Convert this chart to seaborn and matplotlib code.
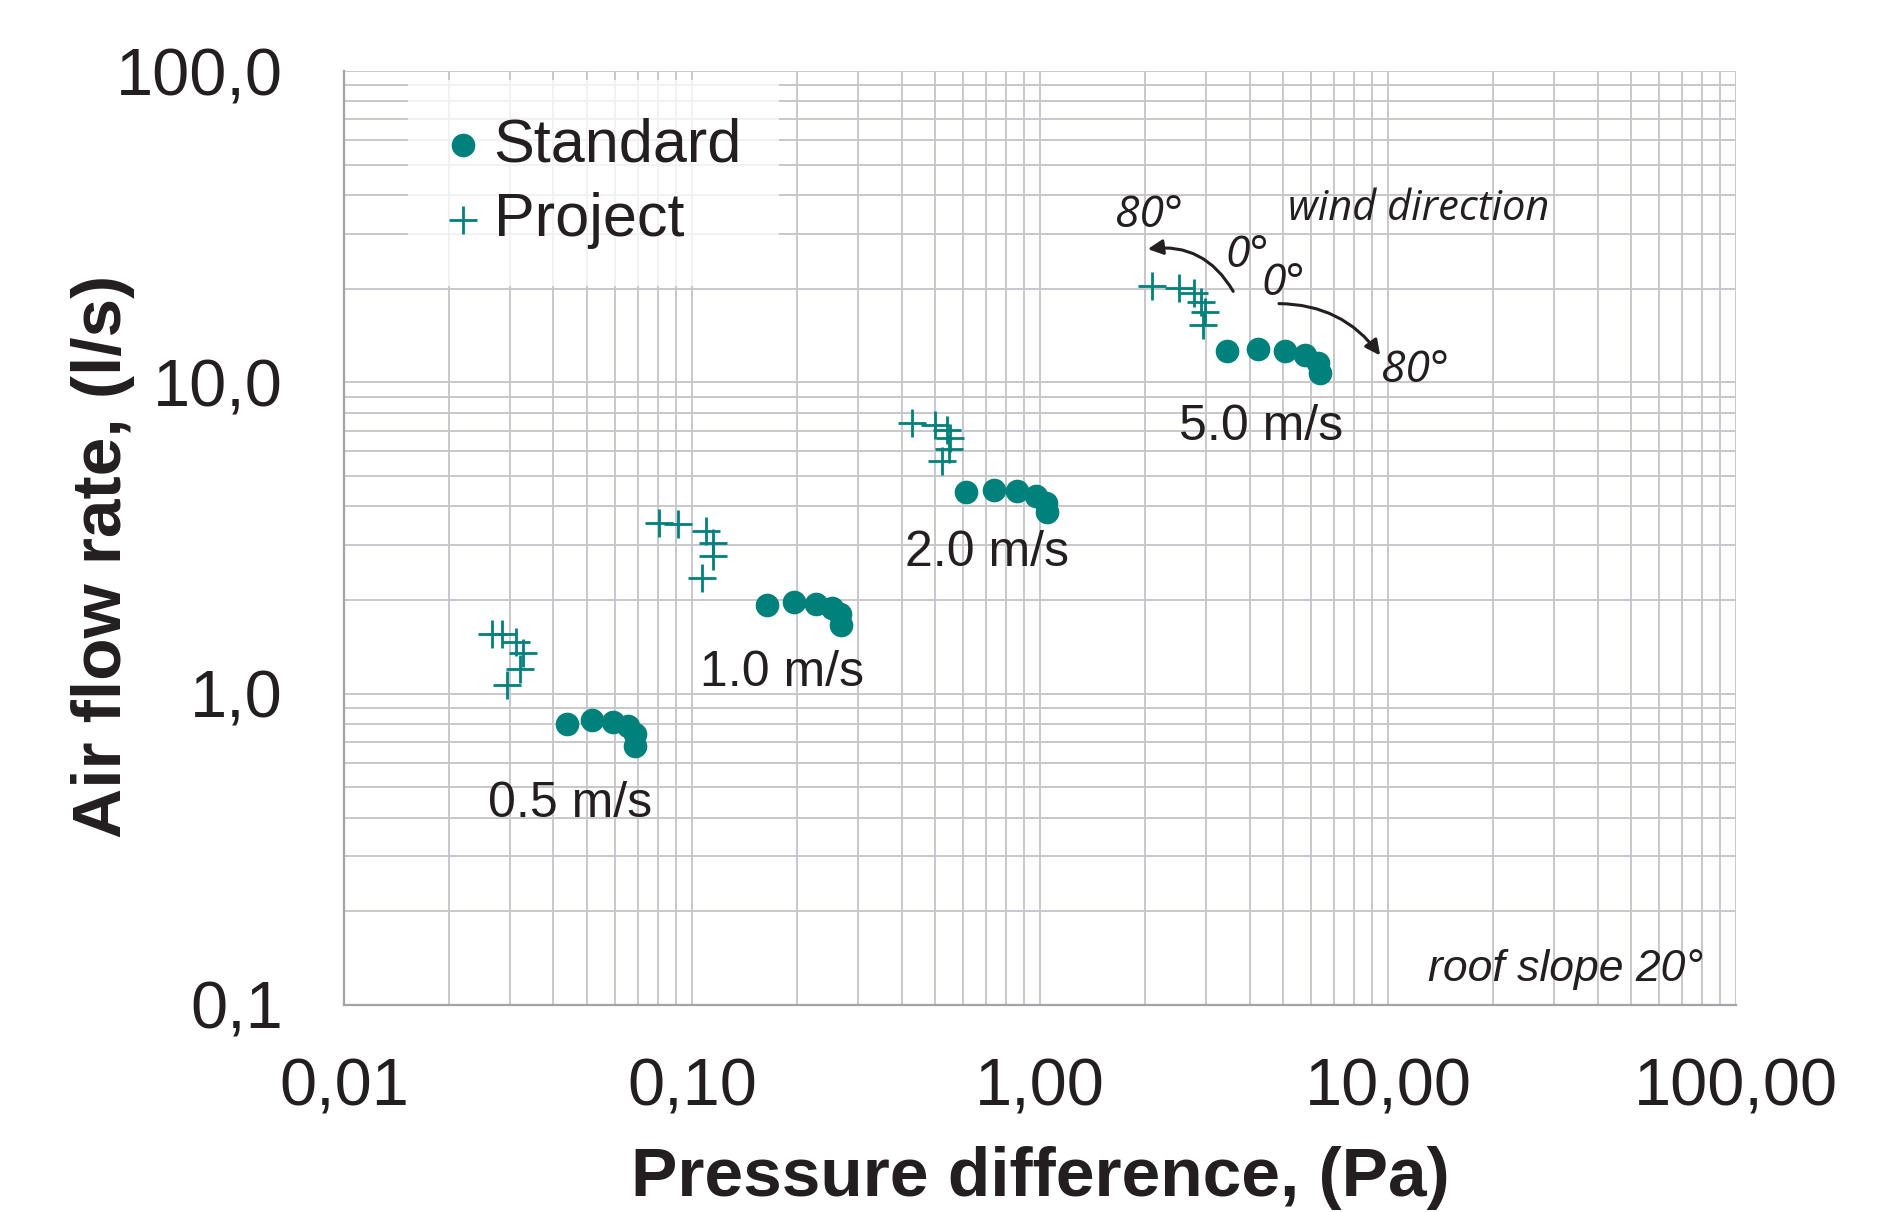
import matplotlib
matplotlib.use("Agg")
import matplotlib.pyplot as plt
import seaborn as sns
import pandas as pd
import numpy as np
from matplotlib.ticker import FixedLocator, LogLocator, NullFormatter

# ---------------- data ----------------
speeds = ["0.5 m/s", "1.0 m/s", "2.0 m/s", "5.0 m/s"]

std_dp_05 = [0.0437, 0.0517, 0.0594, 0.0656, 0.0686, 0.0686]
std_q_05 = [0.80, 0.82, 0.81, 0.79, 0.74, 0.68]
std_dp_10 = [0.164, 0.196, 0.227, 0.252, 0.266, 0.268]
std_q_10 = [1.92, 1.97, 1.94, 1.88, 1.80, 1.66]
std_dp_20 = [0.612, 0.739, 0.861, 0.974, 1.038, 1.049]
std_q_20 = [4.44, 4.52, 4.47, 4.30, 4.10, 3.82]
std_dp_50 = [3.45, 4.24, 5.07, 5.78, 6.28, 6.38]
std_q_50 = [12.6, 12.8, 12.6, 12.2, 11.5, 10.7]

prj_dp_05 = [0.0266, 0.0285, 0.0312, 0.0327, 0.0321, 0.0295]
prj_q_05 = [1.56, 1.56, 1.47, 1.35, 1.20, 1.07]
prj_dp_10 = [0.0803, 0.0910, 0.110, 0.115, 0.115, 0.107]
prj_q_10 = [3.54, 3.51, 3.33, 3.05, 2.76, 2.35]
prj_dp_20 = [0.430, 0.500, 0.540, 0.551, 0.549, 0.522]
prj_q_20 = [7.42, 7.31, 7.01, 6.63, 6.09, 5.57]
prj_dp_50 = [2.10, 2.51, 2.77, 2.90, 2.98, 2.93]
prj_q_50 = [20.4, 20.1, 19.3, 18.1, 16.8, 15.3]

# speed label anchor positions (data coords)
speed_label_x = [0.0446, 0.181, 0.704, 4.32]
speed_label_y = [0.443, 1.168, 2.82, 7.17]

x_ticks = [0.01, 0.1, 1, 10, 100]
x_ticklabels = ["0,01", "0,10", "1,00", "10,00", "100,00"]
y_ticks = [0.1, 1, 10, 100]
y_ticklabels = ["0,1", "1,0", "10,0", "100,0"]

std = pd.DataFrame({
    "dp": std_dp_05 + std_dp_10 + std_dp_20 + std_dp_50,
    "q": std_q_05 + std_q_10 + std_q_20 + std_q_50,
})
prj = pd.DataFrame({
    "dp": prj_dp_05 + prj_dp_10 + prj_dp_20 + prj_dp_50,
    "q": prj_q_05 + prj_q_10 + prj_q_20 + prj_q_50,
})

# ---------------- style ----------------
sns.set_style("white")
plt.rcParams["font.family"] = ["Liberation Sans", "DejaVu Sans"]
TEAL = "#00817B"
TXT = "#231f20"
GRID = "#c8c8cc"
SPINE = "#a3a3a7"

fig = plt.figure(figsize=(18.98, 12.12), dpi=100)
ax = fig.add_axes([0.1812, 0.1708, 0.9147 - 0.1812, 0.9414 - 0.1708])

sns.scatterplot(data=std, x="dp", y="q", ax=ax, marker="o", s=290,
                color=TEAL, edgecolor=TEAL, linewidth=0, label="Standard", zorder=3)
sns.scatterplot(data=prj, x="dp", y="q", ax=ax, marker="+", s=380,
                color=TEAL, linewidth=2.0, label="Project", zorder=3)

ax.set_xscale("log")
ax.set_yscale("log")
ax.set_xlim(0.01, 100)
ax.set_ylim(0.1, 100)

ax.xaxis.set_major_locator(FixedLocator(x_ticks))
ax.yaxis.set_major_locator(FixedLocator(y_ticks))
ax.set_xticklabels(x_ticklabels)
ax.set_yticklabels(y_ticklabels)
ax.xaxis.set_minor_locator(LogLocator(base=10, subs=np.arange(2, 10)))
ax.yaxis.set_minor_locator(LogLocator(base=10, subs=np.arange(2, 10)))
ax.xaxis.set_minor_formatter(NullFormatter())
ax.yaxis.set_minor_formatter(NullFormatter())

ax.grid(True, which="both", color=GRID, linewidth=1.4, zorder=0)
ax.set_axisbelow(True)

for side in ["top", "right"]:
    ax.spines[side].set_visible(False)
for side in ["left", "bottom"]:
    ax.spines[side].set_color(SPINE)
    ax.spines[side].set_linewidth(1.6)

ax.tick_params(which="major", length=16, width=1.6, color=SPINE,
               labelsize=48, labelcolor=TXT, direction="out")
ax.tick_params(axis="y", which="major", pad=28)
ax.tick_params(axis="x", which="major", pad=22)
ax.tick_params(which="minor", length=0)

ax.set_xlabel("Pressure difference, (Pa)", fontsize=50, fontweight="bold", color=TXT)
ax.set_ylabel("Air flow rate, (l/s)", fontsize=50, fontweight="bold", color=TXT)
ax.xaxis.set_label_coords(0.5, -0.185)
ax.xaxis.label.set_verticalalignment("center")
ax.yaxis.set_label_coords(-0.173, 0.48)
ax.yaxis.label.set_verticalalignment("center")

# speed labels
for lab, lx, ly in zip(speeds, speed_label_x, speed_label_y):
    ax.text(lx, ly, lab, fontsize=36, color=TXT, ha="center", va="center")

# wind direction annotations
ifont = ["Open Sans", "DejaVu Sans"]
ax.text(12.27, 36.0, "wind direction", fontsize=30, style="italic",
        family=ifont, color=TXT, ha="center", va="center")
ax.text(2.06, 34.4, "80°", fontsize=32, style="italic", family=ifont,
        color=TXT, ha="center", va="center")
ax.text(3.93, 25.6, "0°", fontsize=32, style="italic", family=ifont,
        color=TXT, ha="center", va="center")
ax.text(4.99, 20.8, "0°", fontsize=32, style="italic", family=ifont,
        color=TXT, ha="center", va="center")
ax.text(11.96, 10.93, "80°", fontsize=32, style="italic", family=ifont,
        color=TXT, ha="center", va="center")

arrow_kw = dict(arrowstyle="-|>,head_length=0.9,head_width=0.45",
                color=TXT, lw=2.2, shrinkA=0, shrinkB=0)
ax.annotate("", xy=(2.04, 26.8), xytext=(3.59, 19.6),
            arrowprops=dict(connectionstyle="arc3,rad=0.33", **arrow_kw))
ax.annotate("", xy=(9.49, 12.2), xytext=(4.86, 17.9),
            arrowprops=dict(connectionstyle="arc3,rad=-0.25", **arrow_kw))

ax.text(0.976, 0.0385, "roof slope 20°", transform=ax.transAxes, fontsize=32,
        style="italic", color=TXT, ha="right", va="center")

# legend
leg = ax.legend(loc="upper left", bbox_to_anchor=(0.046, 0.99), borderaxespad=0,
                fontsize=44, frameon=True, fancybox=False, framealpha=0.75,
                edgecolor="none", facecolor="white", handlelength=0.6,
                handletextpad=0.2, borderpad=0.6, labelspacing=0.3,
                markerscale=1.0)
for t in leg.get_texts():
    t.set_color(TXT)

fig.savefig("out.png", dpi=100)
